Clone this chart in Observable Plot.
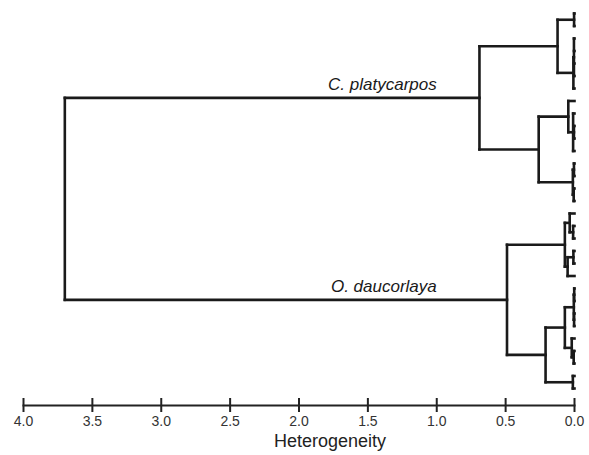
<!DOCTYPE html>
<html>
<head>
<meta charset="utf-8">
<script src="https://cdn.jsdelivr.net/npm/d3@7"></script>
<script src="https://cdn.jsdelivr.net/npm/@observablehq/plot@0.6"></script>
<style>
  html, body { margin: 0; padding: 0; background: #fff; }
  #chart { width: 589px; height: 455px; }
</style>
</head>
<body>
<div id="chart"></div>
<script>
// Leaves are numbered top to bottom (0..30); each internal node is [height, ...children]
const clusterA1 = [0.003, 0, 1];
const clusterA2 = [0.008, [0.004, 2, 3, 4, 5], 6];
const clusterA  = [0.123, clusterA1, clusterA2];
const clusterB1 = [0.045, 7, [0.01, 8, [0.004, 9, 10], 11]];
const clusterB2 = [0.012, [0.004, 12, 13], [0.006, 14, 15]];
const clusterB  = [0.26, clusterB1, clusterB2];
const platycarpos = [0.69, clusterA, clusterB];

const clusterC1 = [0.035, 16, [0.01, 17, 18]];
const clusterC2 = [0.05, [0.008, 19, 20], 21];
const clusterC  = [0.07, clusterC1, clusterC2];
const clusterD1 = [0.07, [0.005, [0.002, 22, 23], [0.003, 24, 25]], [0.02, 26, [0.006, 27, 28]]];
const clusterD2 = [0.012, 29, 30];
const clusterD  = [0.21, clusterD1, clusterD2];
const daucorlaya = [0.49, clusterC, clusterD];

const root = [3.70, platycarpos, daucorlaya];

const groupNames = ["C. platycarpos", "O. daucorlaya"];
const groupLabelEnd = [1.0, 1.0]; // heterogeneity value where each label ends
const xTicks = [4.0, 3.5, 3.0, 2.5, 2.0, 1.5, 1.0, 0.5, 0.0];
const xLabel = "Heterogeneity";

// Build dendrogram segments
const segs = [];
function layout(node) {
  if (typeof node === "number") return {x: 0, y: node};
  const h = node[0];
  const kids = node.slice(1).map(layout);
  const first = kids[0], last = kids[kids.length - 1];
  segs.push({x1: h, x2: h, y1: first.y, y2: last.y});
  for (const k of kids) segs.push({x1: k.x, x2: h, y1: k.y, y2: k.y});
  return {x: h, y: (first.y + last.y) / 2};
}
layout(root);
function pos(node) {
  if (typeof node === "number") return {x: 0, y: node};
  const kids = node.slice(1).map(pos);
  return {x: node[0], y: (kids[0].y + kids[kids.length - 1].y) / 2};
}
const labels = [platycarpos, daucorlaya].map((n, i) => ({x: groupLabelEnd[i], y: pos(n).y, name: groupNames[i]}));

const chart = Plot.plot({
  width: 589,
  height: 455,
  marginLeft: 23,
  marginRight: 15,
  marginTop: 13,
  marginBottom: 50,
  insetBottom: 17,
  style: {fontFamily: "Liberation Sans, Arial, sans-serif", color: "#222", background: "#fff"},
  x: {domain: [4, 0]},
  y: {domain: [0, 30], reverse: true, axis: null},
  marks: [
    Plot.link(segs, {x1: "x1", y1: "y1", x2: "x2", y2: "y2", stroke: "#1a1a1a", strokeWidth: 2.6, strokeLinecap: "square"}),
    Plot.text(labels, {x: "x", y: "y", text: "name", textAnchor: "end", lineAnchor: "bottom", dy: -8, fontSize: 17, fontStyle: "italic", fill: "#1a1a1a"}),
    Plot.frame({anchor: "bottom", stroke: "#222", strokeWidth: 2}),
    Plot.axisX({anchor: "bottom", ticks: xTicks, tickFormat: d3.format(".1f"), tickSize: 14, dy: -7, tickPadding: 4, fontSize: 14, label: null, stroke: "#222", strokeWidth: 2, fill: "#333"}),
    Plot.text([xLabel], {frameAnchor: "bottom", dx: 31, dy: 41, fontSize: 18, fill: "#222"})
  ]
});
document.getElementById("chart").appendChild(chart);
</script>
</body>
</html>
